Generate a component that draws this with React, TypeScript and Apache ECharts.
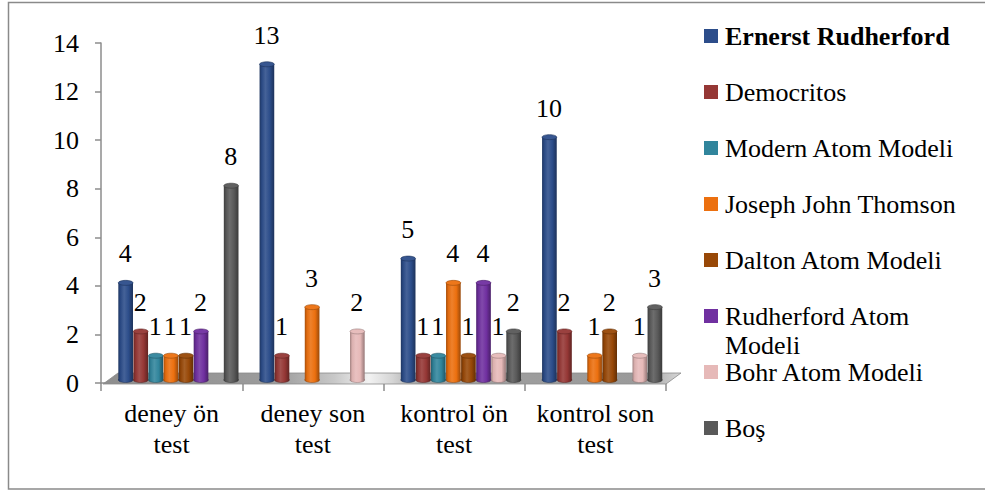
import React, { useEffect, useRef } from 'react';
import * as echarts from 'echarts';

// Test groups along the category axis
const categories = ['deney ön test', 'deney son test', 'kontrol ön test', 'kontrol son test'];

// Answer counts per model, one value per test group
const ernerstRudherford = [4, 13, 5, 10];
const democritos = [2, 1, 1, 2];
const modernAtomModeli = [1, 0, 1, 0];
const josephJohnThomson = [1, 3, 4, 1];
const daltonAtomModeli = [1, 0, 1, 2];
const rudherfordAtomModeli = [2, 0, 4, 0];
const bohrAtomModeli = [0, 2, 1, 1];
const bos = [8, 0, 2, 3];

const seriesNames = [
  'Ernerst Rudherford',
  'Democritos',
  'Modern Atom Modeli',
  'Joseph John Thomson',
  'Dalton Atom Modeli',
  'Rudherford Atom Modeli',
  'Bohr Atom Modeli',
  'Boş',
];
const seriesValues = [
  ernerstRudherford,
  democritos,
  modernAtomModeli,
  josephJohnThomson,
  daltonAtomModeli,
  rudherfordAtomModeli,
  bohrAtomModeli,
  bos,
];
const seriesColors = ['#2c4d8a', '#953735', '#31859c', '#ec700f', '#984807', '#7030a0', '#e6b9b8', '#595959'];

const yTicks = [0, 2, 4, 6, 8, 10, 12, 14];

const FONT = 'Liberation Serif';
const GRID_LEFT = 101;
const GRID_RIGHT = 319;
const GRID_TOP = 43;
const GRID_BOTTOM = 107;
const W = 985;
const H = 490;
const SLOT_RATIO = 0.1067; // width of one cylinder slot relative to a category band
const DEPTH_SHIFT = 0.048; // cylinders stand a bit back (right) on the floor
const DEPTH_LIFT = 3; // ... and a bit up
const AXIS_GREY = '#8c8c8c';
const LEGEND_MAX_CHARS = 20;

function mix(hex: string, target: number, t: number): string {
  const n = parseInt(hex.slice(1), 16);
  const r = (n >> 16) & 255;
  const g = (n >> 8) & 255;
  const b = n & 255;
  const f = (c: number) => Math.round(c + (target - c) * t);
  return `rgb(${f(r)},${f(g)},${f(b)})`;
}

function bodyGradient(c: string) {
  return new echarts.graphic.LinearGradient(0, 0, 1, 0, [
    { offset: 0, color: mix(c, 0, 0.3) },
    { offset: 0.15, color: mix(c, 0, 0.05) },
    { offset: 0.4, color: mix(c, 255, 0.12) },
    { offset: 0.7, color: c },
    { offset: 1, color: mix(c, 0, 0.35) },
  ]);
}

// long legend names wrap onto a second line at the last space
function wrapName(name: string): string {
  if (name.length <= LEGEND_MAX_CHARS) return name;
  const k = name.lastIndexOf(' ');
  return k > 0 ? name.slice(0, k) + '\n' + name.slice(k + 1) : name;
}

function buildOption() {
  const n = seriesNames.length;
  const floorFrontY = H - GRID_BOTTOM + 1;
  const floorBackY = floorFrontY - 11;
  const floorRightX = W - GRID_RIGHT;

  const series = seriesNames.map((name, si) => ({
    type: 'custom',
    name,
    z: 3,
    itemStyle: { color: seriesColors[si] },
    data: seriesValues[si].map((v, ci) => [ci, v]),
    encode: { x: 0, y: 1 },
    renderItem: (params: any, api: any) => {
      const cat = api.value(0) as number;
      const v = api.value(1) as number;
      if (!v) return null;
      const band = api.size([1, 0])[0];
      const slot = band * SLOT_RATIO;
      const top = api.coord([cat, v]);
      const base = api.coord([cat, 0]);
      const cx = top[0] + (si - (n - 1) / 2) * slot + band * DEPTH_SHIFT;
      const w = slot - 0.4;
      const topY = top[1] - DEPTH_LIFT;
      const baseY = base[1] - DEPTH_LIFT;
      const c = seriesColors[si];
      return {
        type: 'group',
        children: [
          {
            type: 'ellipse',
            shape: { cx, cy: baseY, rx: w / 2, ry: 2.5 },
            style: { fill: bodyGradient(c), stroke: mix(c, 0, 0.4), lineWidth: 0.5 },
          },
          {
            type: 'rect',
            shape: { x: cx - w / 2, y: topY, width: w, height: baseY - topY },
            style: { fill: bodyGradient(c) },
          },
          {
            type: 'ellipse',
            shape: { cx, cy: topY, rx: w / 2, ry: 2.5 },
            style: { fill: mix(c, 255, 0.05), stroke: mix(c, 0, 0.35), lineWidth: 0.6 },
          },
          {
            type: 'text',
            x: cx - 0.5,
            y: topY - 29,
            style: {
              text: String(v),
              fill: '#000',
              fontFamily: FONT,
              fontSize: 26,
              align: 'center',
              verticalAlign: 'middle',
            },
          },
        ],
      };
    },
  }));

  const legendItems: any[] = [];
  seriesNames.forEach((name, i) => {
    const cy = 36 + i * 56;
    legendItems.push({
      type: 'rect',
      shape: { x: 704, y: cy - 7, width: 14, height: 14 },
      style: { fill: seriesColors[i] },
    });
    legendItems.push({
      type: 'text',
      x: 725,
      y: cy - 14.5,
      style: {
        text: wrapName(name),
        fill: '#000',
        fontFamily: FONT,
        fontSize: 26,
        fontWeight: i === 0 ? 'bold' : 'normal',
        lineHeight: 29,
        verticalAlign: 'top',
        align: 'left',
      },
    });
  });

  return {
    animation: false,
    backgroundColor: '#fff',
    textStyle: { fontFamily: FONT },
    grid: { left: GRID_LEFT, right: GRID_RIGHT, top: GRID_TOP, bottom: GRID_BOTTOM },
    xAxis: {
      type: 'category',
      data: categories,
      axisLine: { show: true, lineStyle: { color: AXIS_GREY, width: 1.5 } },
      axisTick: { show: true, length: 8, lineStyle: { color: AXIS_GREY, width: 1.5 } },
      axisLabel: {
        color: '#000',
        fontFamily: FONT,
        fontSize: 26,
        lineHeight: 31,
        margin: 15,
        interval: 0,
        formatter: (val: string) => {
          const k = val.lastIndexOf(' ');
          return k > 0 ? val.slice(0, k) + '\n' + val.slice(k + 1) : val;
        },
      },
      splitLine: { show: false },
    },
    yAxis: {
      type: 'value',
      min: yTicks[0],
      max: yTicks[yTicks.length - 1],
      interval: yTicks[1] - yTicks[0],
      axisLine: { show: true, lineStyle: { color: AXIS_GREY, width: 1.5 } },
      axisTick: { show: true, length: 6, lineStyle: { color: AXIS_GREY, width: 1.5 } },
      axisLabel: { color: '#000', fontFamily: FONT, fontSize: 26, margin: 22 },
      splitLine: { show: false },
    },
    graphic: [
      {
        type: 'rect',
        silent: true,
        z: 0,
        shape: { x: 8.5, y: 2.5, width: W + 10, height: H - 3.5 },
        style: { fill: 'none', stroke: '#8a8a8a', lineWidth: 1.5 },
      },
      // floor of the 3D plot area
      {
        type: 'polygon',
        silent: true,
        z: 1,
        shape: {
          points: [
            [GRID_LEFT + 2, floorFrontY],
            [floorRightX, floorFrontY],
            [floorRightX + 15, floorBackY],
            [GRID_LEFT + 17, floorBackY],
          ],
        },
        style: {
          fill: new echarts.graphic.LinearGradient(0, 0, 1, 0, [
            { offset: 0, color: '#8e8e8e' },
            { offset: 0.3, color: '#9c9c9c' },
            { offset: 0.4, color: '#c8c8c8' },
            { offset: 0.46, color: '#f2f2f2' },
            { offset: 0.5, color: '#d6d6d6' },
            { offset: 0.55, color: '#a0a0a0' },
            { offset: 0.93, color: '#9a9a9a' },
            { offset: 1, color: '#d8d8d8' },
          ]),
          stroke: '#8a8a8a',
          lineWidth: 0.8,
        },
      },
      {
        type: 'group',
        z: 2,
        silent: true,
        children: legendItems,
      },
    ],
    series,
  };
}

export default function App() {
  const ref = useRef<HTMLDivElement>(null);
  useEffect(() => {
    const chart = echarts.init(ref.current!, null, { renderer: 'svg' });
    chart.setOption(buildOption() as any);
    return () => chart.dispose();
  }, []);
  return (
    <div
      ref={ref}
      style={{ position: 'absolute', left: 0, top: 0, width: W, height: H, background: '#fff' }}
    />
  );
}
